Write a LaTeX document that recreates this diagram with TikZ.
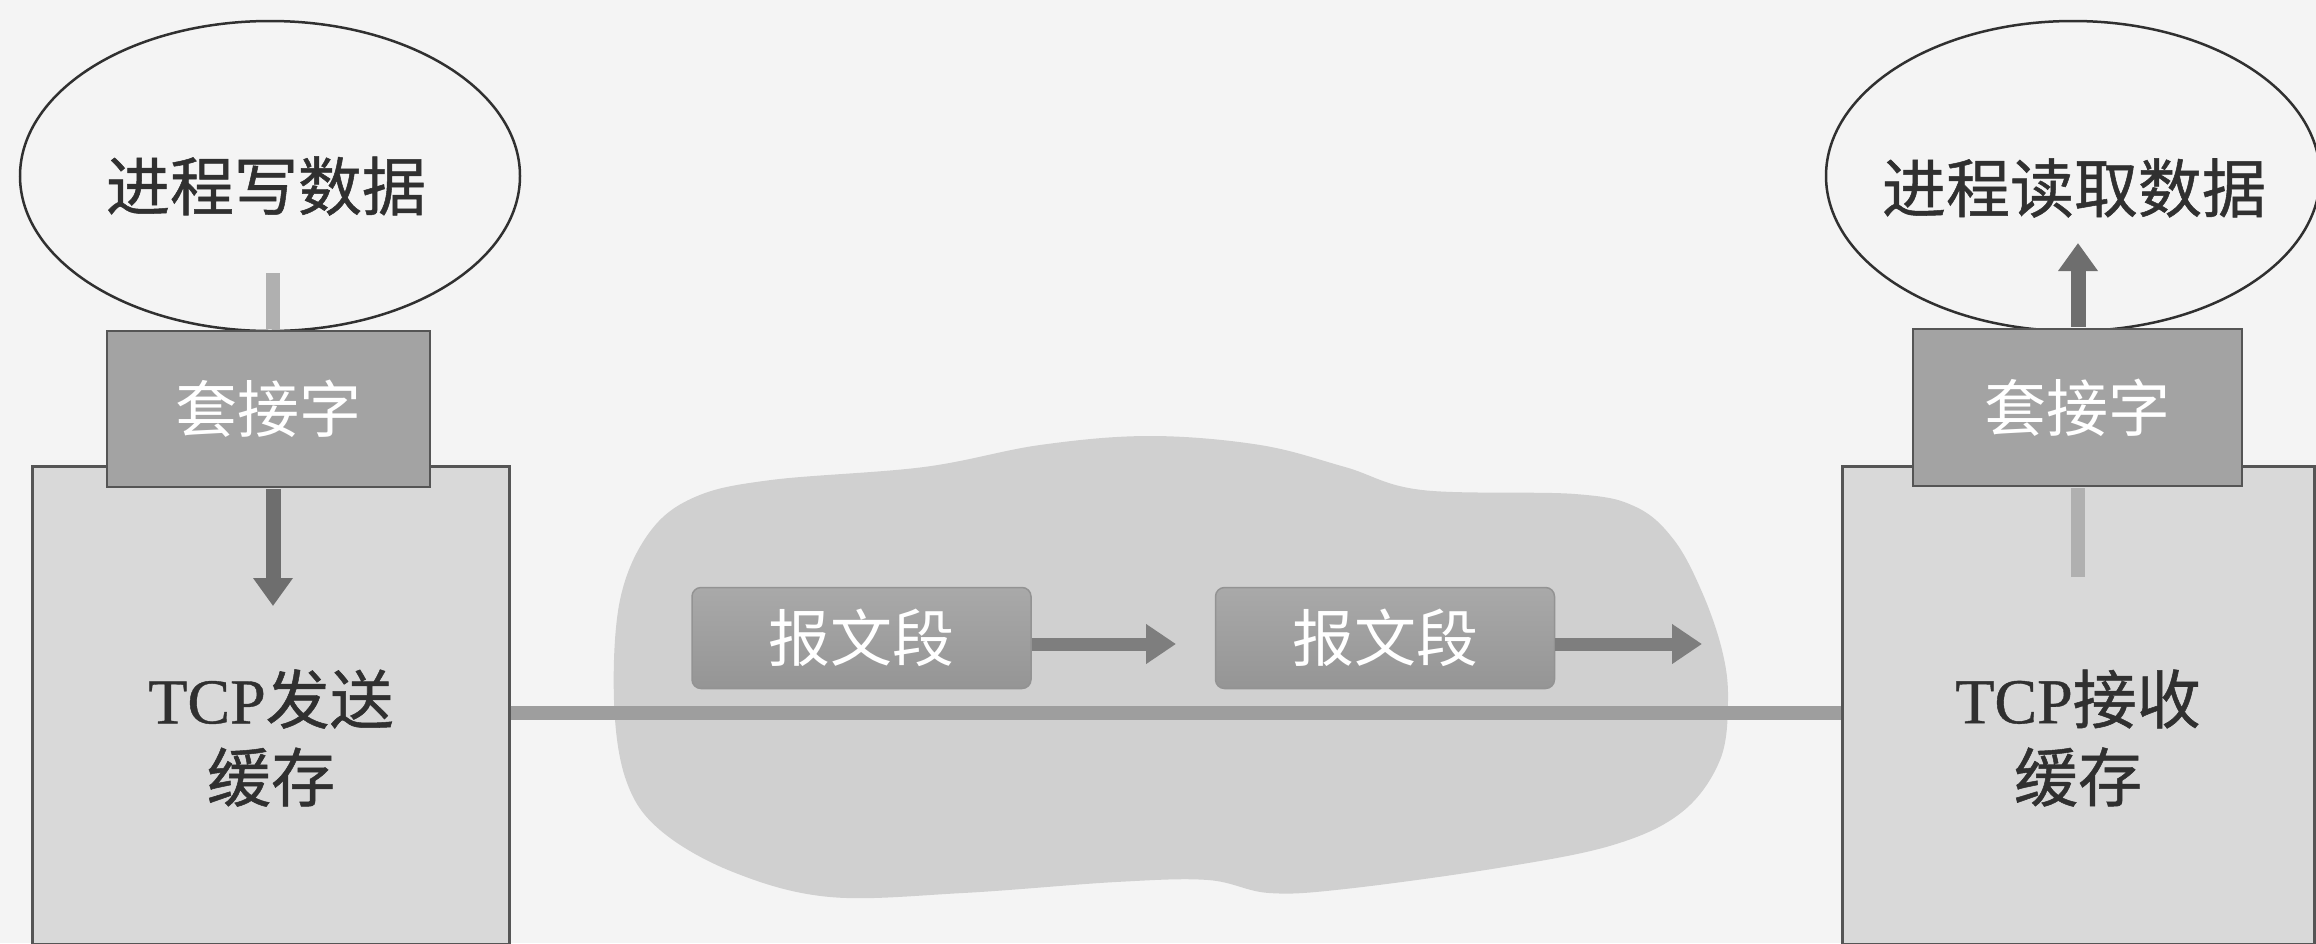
\documentclass[tikz,border=0pt]{standalone}
\usepackage{fontspec}
\setmainfont{Liberation Serif}[FakeBold=0.6]
\newfontfamily\cjk{Noto Sans CJK SC}
\newfontfamily\cjkd{Noto Sans CJK SC}[FakeBold=0.8]
\usetikzlibrary{shapes.geometric,arrows.meta}
\definecolor{bg}{HTML}{F4F4F4}
\definecolor{cloudc}{HTML}{D0D0D0}
\definecolor{boxc}{HTML}{D9D9D9}
\definecolor{sockc}{HTML}{A3A3A3}
\definecolor{linec}{HTML}{9E9E9E}
\definecolor{edgec}{HTML}{555555}
\definecolor{txtc}{HTML}{303030}
\definecolor{arrdark}{HTML}{6E6E6E}
\definecolor{arrlight}{HTML}{B0B0B0}
\definecolor{segtop}{HTML}{A9A9A9}
\definecolor{segbot}{HTML}{959595}
\definecolor{segarr}{HTML}{7E7E7E}
\tikzset{
  bigtxt/.style={font=\fontsize{64pt}{78pt}\selectfont, text=txtc, align=center, inner sep=0pt},
  proc/.style={ellipse, draw=txtc, line width=2.5pt, fill=bg, inner sep=0pt},
  tcpbox/.style={rectangle, draw=edgec, line width=3pt, fill=boxc, inner sep=0pt},
  sockbox/.style={rectangle, draw=edgec, line width=2.5pt, fill=sockc, inner sep=0pt,
     text=white, font=\cjk\fontsize{62pt}{70pt}\selectfont},
  segbox/.style={rectangle, rounded corners=9pt, draw=gray!85, line width=1.5pt,
     top color=segtop, bottom color=segbot, inner sep=0pt,
     minimum width=339pt, minimum height=101pt,
     text=white, font=\cjk\fontsize{62pt}{70pt}\selectfont},
  segarrow/.style={draw=segarr, line width=13pt,
     -{Triangle[width=38pt,length=30pt]}},
  darkarrow/.style={draw=arrdark, line width=15pt, -{Triangle[width=38pt,length=28pt]}},
  lightshaft/.style={draw=arrlight, line width=14pt},
}
\begin{document}
\begin{tikzpicture}[x=1pt,y=-1pt]
\useasboundingbox (0,0) rectangle (2316,943);
\clip (0,0) rectangle (2316,943);
\fill[bg] (0,0) rectangle (2316,943);

% cloud (network)
\fill[cloudc] plot[smooth cycle, tension=0.6] coordinates {
 (614,700) (620,600) (649,533) (695,497) (771,480) (924,467) (1040,445)
 (1150,436) (1260,445) (1345,467) (1422,490) (1575,494) (1636,507) (1674,540)
 (1702,592) (1722,650) (1728,700) (1720,760) (1682,812) (1613,845) (1498,868)
 (1345,889) (1269,893) (1208,880) (1116,882) (963,893) (830,897) (733,872)
 (660,830) (626,780)};

% TCP buffers
\node[tcpbox, minimum width=477pt, minimum height=478pt] (tcpL) at (270.5,705) {};
\node[tcpbox, minimum width=472pt, minimum height=478pt] (tcpR) at (2078,705) {};

% connection line
\draw[linec, line width=14pt] ([yshift=-8pt]tcpL.east) -- ([yshift=-8pt]tcpR.west);

% segments
\node[segbox] (seg1) at (861.5,638) {报文段};
\node[segbox] (seg2) at (1385,638) {报文段};
\coordinate (s1tip) at (1176,644);
\coordinate (s2tip) at (1702,644);
\draw[segarrow] (seg1.east |- s1tip) -- (s1tip);
\draw[segarrow] (seg2.east |- s2tip) -- (s2tip);

% buffer labels
\node[bigtxt] (tcpLtxt) at (271,738) {TCP{\cjkd 发送}\\{\cjkd 缓存}};
\node[bigtxt] (tcpRtxt) at (2078,738) {TCP{\cjkd 接收}\\{\cjkd 缓存}};

% processes
\node[proc, minimum width=500pt, minimum height=310pt] (procL) at (270,176) {};
\node[proc, minimum width=494pt, minimum height=310pt] (procR) at (2073,176) {};
\node[bigtxt, font=\cjkd\fontsize{64pt}{78pt}\selectfont] (procLtxt) at (266,186) {进程写数据};
\node[bigtxt, font=\cjkd\fontsize{64pt}{78pt}\selectfont] (procRtxt) at (2074,188) {进程读取数据};

% data path arrows
\coordinate (aLtop) at (273,273);
\coordinate (aLend) at (273,606);
\coordinate (aRbot) at (2078,577);
\coordinate (aRend) at (2078,243);

% sockets
\node[sockbox, minimum width=323pt, minimum height=156pt] (sockL) at (268.5,409) {套接字};
\node[sockbox, minimum width=329pt, minimum height=157pt] (sockR) at (2077.5,407.5) {套接字};

\draw[lightshaft] (aLtop) -- ([yshift=1.2pt]aLtop |- sockL.north);
\draw[darkarrow] ([yshift=-1.2pt]sockL.south -| aLend) -- (aLend);
\draw[lightshaft] (aRbot) -- ([yshift=-1.2pt]aRbot |- sockR.south);
\draw[darkarrow] ([yshift=1.2pt]sockR.north -| aRend) -- (aRend);
\end{tikzpicture}
\end{document}
